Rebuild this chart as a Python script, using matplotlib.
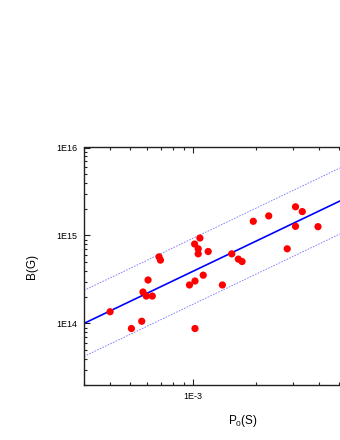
import numpy as np
import matplotlib
matplotlib.use("Agg")
from matplotlib import pyplot as plt
from matplotlib.ticker import LogLocator, FuncFormatter, NullFormatter

plt.rcParams['font.family'] = ['Liberation Sans', 'DejaVu Sans']
plt.rcParams['mathtext.fontset'] = 'custom'
plt.rcParams['mathtext.rm'] = 'Liberation Sans'
plt.rcParams['mathtext.default'] = 'regular'

# period P0 (s) and field B (G)
period = [4.0e-4, 5.06e-4, 5.67e-4, 5.75e-4, 5.96e-4, 6.08e-4, 6.37e-4, 6.86e-4,
          6.97e-4, 9.6e-4, 1.02e-3, 1.02e-3, 1.117e-3, 1.016e-3, 1.057e-3,
          1.057e-3, 1.077e-3, 1.18e-3, 1.38e-3, 1.53e-3, 1.645e-3, 1.714e-3,
          1.94e-3, 2.30e-3, 2.82e-3, 3.09e-3, 3.33e-3, 3.09e-3, 3.96e-3]
field = [1.36e14, 8.77e13, 1.06e14, 2.28e14, 2.05e14, 3.12e14, 2.05e14, 5.72e14,
         5.25e14, 2.74e14, 3.04e14, 8.77e13, 3.54e14, 8.0e14, 7.06e14,
         6.19e14, 9.36e14, 6.58e14, 2.74e14, 6.19e14, 5.39e14, 5.06e14,
         1.45e15, 1.67e15, 7.06e14, 2.12e15, 1.87e15, 1.27e15, 1.26e15]

# fitted power law B = norm * (P/1e-3)^slope, and its +-band in dex
fit_slope = 1.135
fit_norm = 3.93e14
band_dex = 0.375

xlim = (3e-4, 1e-2)
ylim = (2e13, 1e16)

fig = plt.figure(figsize=(3.4, 4.4), dpi=100)
ax = fig.add_axes([84 / 340, 55 / 440, 318 / 340, 237.5 / 440])

px = np.logspace(np.log10(xlim[0]), np.log10(xlim[1]), 50)
fit = fit_norm * (px / 1e-3) ** fit_slope
ax.plot(px, fit, color='#0000ff', lw=1.2, zorder=2)
for sgn in (1, -1):
    ax.plot(px, fit * 10 ** (sgn * band_dex), color='#7777ff', lw=0.6,
            dashes=(2, 1.5), zorder=2)

ax.scatter(period, field, s=27, color='#ff0000', edgecolors='none', zorder=3)

ax.set_xscale('log')
ax.set_yscale('log')
ax.set_xlim(*xlim)
ax.set_ylim(*ylim)


def log_label(v, p):
    # the right part of the axis falls outside the saved picture
    if v > 5e-3 and v < 1:
        return ''
    return '1E%d' % int(round(np.log10(v)))


fmt = FuncFormatter(log_label)
ax.xaxis.set_major_locator(LogLocator(base=10, numticks=10))
ax.yaxis.set_major_locator(LogLocator(base=10, numticks=10))
ax.xaxis.set_minor_locator(LogLocator(base=10, subs=np.arange(2, 10), numticks=20))
ax.yaxis.set_minor_locator(LogLocator(base=10, subs=np.arange(2, 10), numticks=20))
ax.xaxis.set_major_formatter(fmt)
ax.yaxis.set_major_formatter(fmt)
ax.xaxis.set_minor_formatter(NullFormatter())
ax.yaxis.set_minor_formatter(NullFormatter())

ax.tick_params(which='both', direction='in', top=True, right=True,
               labelsize=6.5, width=0.8, color='#222222')
ax.tick_params(which='major', length=4.5, pad=5)
ax.tick_params(which='minor', length=2.5)
for s in ax.spines.values():
    s.set_linewidth(1.0)
    s.set_color('#222222')

ax.set_xlabel(r'P$_0$(S)', fontsize=8.5, labelpad=9)
ax.set_ylabel('B(G)', fontsize=8.5, labelpad=13)

fig.savefig('out.png', dpi=100)
